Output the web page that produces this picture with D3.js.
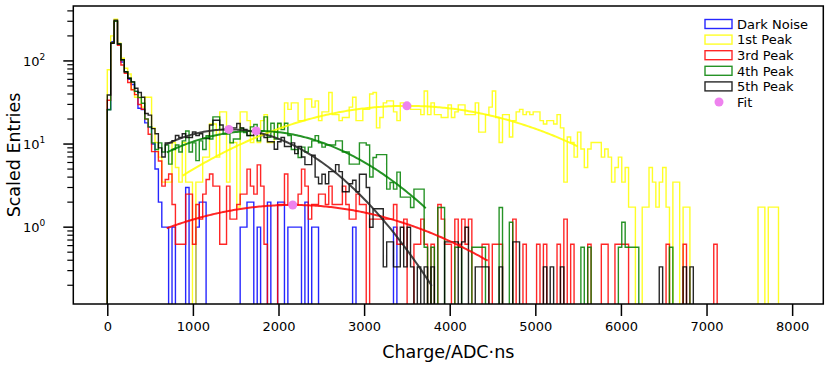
<!DOCTYPE html>
<html>
<head>
<meta charset="utf-8">
<script src="https://cdn.jsdelivr.net/npm/d3@7"></script>
<style>
body { margin: 0; background: #fff; }
text { font-family: "DejaVu Sans", sans-serif; }
</style>
</head>
<body>
<svg id="chart" width="830" height="368"></svg>
<script>
(function() {
'use strict';

// 200 bins from 0, width in ADC·ns
var binWidth = 39.8;

var seriesNames = ['Dark Noise', '1st Peak', '3rd Peak', '4th Peak', '5th Peak'];
var seriesColors = ['#0000ff', '#ffff00', '#ff0000', '#008000', '#000000'];
// entries per count after scaling
var seriesScale = [1.0, 1.74, 0.624, 0.574, 0.333];

// raw counts per bin
var darkNoise = [
    26,170,300,160,97,74,60,52,43,27,
    26,18,16,10,5,2,1,1,0,1,
    0,0,0,3,0,0,1,2,2,0,
    0,0,0,0,0,0,0,0,0,1,
    1,2,2,0,1,0,0,2,0,0,
    2,2,0,1,1,1,1,0,2,0,
    1,1,0,0,0,0,0,0,0,0,
    0,0,1,0,0,0,0,0,0,0,
    0,0,0,0,1,0,0,0,0,0,
    0,0,0,0,0,0,0,0,0,0,
    0,0,0,0,0,0,0,0,0,0, 0,0,0,0,0,0,0,0,0,0,
    0,0,0,0,0,0,0,0,0,0, 0,0,0,0,0,0,0,0,0,0,
    0,0,0,0,0,0,0,0,0,0, 0,0,0,0,0,0,0,0,0,0,
    0,0,0,0,0,0,0,0,0,0, 0,0,0,0,0,0,0,0,0,0,
    0,0,0,0,0,0,0,0,0,0, 0,0,0,0,0,0,0,0,0,0
];
var peak1 = [
    45,115,182,94,62,47,40,26,21,21,
    16,21,21,9,6,4,2,2,2,6,
    3,2,6,2,2,0,2,2,4,4,
    10,10,4,14,14,2,6,6,1,14,
    14,11,6,8,6,11,13,6,6,8,
    10,9,18,15,18,18,11,11,20,20,
    16,19,11,14,14,24,13,13,11,12,
    12,16,21,11,11,15,15,23,24,9,
    12,18,19,19,14,11,18,17,17,15,
    15,15,13,25,13,18,13,13,12,12,
    17,12,14,17,17,13,13,13,18,8,
    8,13,16,25,12,6,13,13,7,11,
    14,15,13,14,13,14,14,11,10,11,
    11,10,13,9,2,7,6,4,8,5,
    3,5,6,6,6,4,5,4,2,3,
    4,2,3,1,1,0,0,1,1,3,
    2,1,2,3,1,0,2,2,0,1,
    1,0,0,0,0,0,0,0,0,0,
    0,0,0,0,0,0,0,0,0,0,
    0,1,1,0,1,1,1,0,0,0
];
var peak3 = [
    54,265,480,247,143,114,88,72,63,48,
    42,32,21,13,13,10,5,6,7,3,
    1,1,1,4,4,1,3,2,4,6,
    7,5,5,1,1,5,2,2,3,4,
    4,8,5,4,9,5,1,0,0,0,
    3,3,7,3,3,3,4,8,5,2,
    3,3,4,4,3,5,3,3,3,5,
    3,2,2,4,3,3,0,2,2,2,
    2,2,2,2,3,1,1,2,0,0,
    1,1,2,1,0,1,0,3,2,1,
    1,0,2,1,2,1,2,0,0,0,
    1,1,0,1,1,1,0,0,0,2,
    0,0,1,0,0,0,1,0,1,0,
    0,0,1,0,2,0,1,0,0,0,
    0,1,0,0,0,1,1,0,0,1,
    1,1,1,0,0,0,0,0,0,0,
    0,0,0,0,1,0,0,0,0,1,
    0,0,0,0,0,0,0,0,1,0,
    0,0,0,0,0,0,0,0,0,0,
    0,0,0,0,0,0,0,0,0,0
];
var peak4 = [
    45,287,523,279,179,129,108,97,75,63,
    54,35,28,18,15,18,14,17,10,15,
    17,14,19,25,14,18,11,19,15,22,
    20,37,37,26,23,23,18,20,20,27,
    24,22,28,30,19,25,37,21,31,20,
    31,26,31,22,15,15,12,16,14,16,
    19,22,18,16,17,17,17,19,19,14,
    14,10,10,10,18,18,17,7,12,13,
    13,13,5,6,5,8,4,4,4,3,
    5,5,5,1,0,1,0,3,3,0,
    0,0,1,1,0,0,0,1,1,1,
    1,0,0,0,0,3,0,0,2,0,
    0,0,0,0,0,0,0,0,0,0,
    0,0,0,0,0,0,0,0,0,1,
    0,1,0,0,0,0,0,0,0,0,
    1,2,1,1,1,1,0,0,0,0,
    0,0,0,0,0,1,0,0,0,0,
    0,0,0,0,0,0,0,0,0,0,
    0,0,0,0,0,0,0,0,0,0,
    0,0,0,0,0,0,0,0,0,0
];
var peak5 = [
    117,490,930,480,310,222,186,168,141,125,
    110,70,67,46,40,27,21,31,31,33,
    38,36,40,36,36,42,38,40,35,35,
    51,58,58,51,45,42,47,47,53,47,
    45,38,38,40,42,38,36,32,32,26,
    32,36,28,28,31,23,28,21,17,17,
    22,12,10,13,10,14,14,17,14,8,
    8,10,11,8,13,13,9,3,5,5,
    5,1,2,2,1,1,3,1,3,1,
    0,1,0,1,0,1,0,0,0,2,
    2,2,2,0,2,3,0,0,1,1,
    1,1,0,0,0,1,0,0,0,2,
    2,0,0,0,0,0,0,0,1,0,
    1,0,0,1,0,0,0,0,0,0,
    0,0,0,0,0,0,0,0,0,0,
    0,0,0,0,0,0,0,0,0,0,
    0,0,1,0,0,0,0,0,0,1,
    0,1,0,0,0,0,0,0,0,0,
    0,0,0,0,0,0,0,0,0,0,
    0,0,0,0,0,0,0,0,0,0
];
var seriesCounts = [darkNoise, peak1, peak3, peak4, peak5];

// gaussian fits (series index, amplitude, mean, sigma, fit range)
var fitSeries = [1, 2, 3, 4];
var fitAmp = [28.8, 1.85, 14.4, 15.0];
var fitMean = [3500, 2166, 1740, 1420];
var fitSigma = [1332, 1296, 957, 805];
var fitStart = [881, 694, 694, 686];
var fitEnd = [5495, 4444, 3720, 3790];

var xTicks = [0, 1000, 2000, 3000, 4000, 5000, 6000, 7000, 8000];
var yMajor = [1, 10, 100];
var yMinor = [0.2, 0.3, 0.4, 0.5, 0.6, 0.7, 0.8, 0.9,
    2, 3, 4, 5, 6, 7, 8, 9, 20, 30, 40, 50, 60, 70, 80, 90, 200, 300, 400];

var svg = d3.select('#chart');
var left = 73.3, top = 6, width = 750, height = 298;

var x = d3.scaleLinear().domain([-397, 8364]).range([0, width]);
var y = d3.scaleLog().domain([0.119, 458]).range([height, 0]);

var g = svg.append('g').attr('transform', 'translate(' + left + ',' + top + ')');

g.append('defs').append('clipPath').attr('id', 'plot-clip')
    .append('rect').attr('width', width).attr('height', height);

var plot = g.append('g').attr('clip-path', 'url(#plot-clip)');

var yOf = function(v) {
    return v > 0 ? y(v) : height + 10;
};

// step outlines
seriesCounts.forEach(function(counts, si) {
    var pts = [[x(0), height + 10]];
    counts.forEach(function(c, i) {
        var v = c * seriesScale[si];
        pts.push([x(i * binWidth), yOf(v)]);
        pts.push([x((i + 1) * binWidth), yOf(v)]);
    });
    pts.push([x(counts.length * binWidth), height + 10]);
    plot.append('path')
        .attr('d', d3.line()(pts))
        .attr('fill', 'none')
        .attr('stroke', seriesColors[si])
        .attr('stroke-width', 1.4)
        .attr('stroke-opacity', 0.85)
        .attr('stroke-linejoin', 'miter');
});

// fit curves
fitSeries.forEach(function(si, k) {
    var xs = d3.range(fitStart[k], fitEnd[k], 20).concat([fitEnd[k]]);
    var line = d3.line()
        .x(function(d) { return x(d); })
        .y(function(d) {
            var dx = d - fitMean[k];
            return y(fitAmp[k] * Math.exp(-dx * dx / (2 * fitSigma[k] * fitSigma[k])));
        });
    plot.append('path')
        .attr('d', line(xs))
        .attr('fill', 'none')
        .attr('stroke', si === 4 ? '#222' : seriesColors[si])
        .attr('stroke-width', 2)
        .attr('stroke-opacity', 0.85);
});

// fit peaks
fitSeries.forEach(function(si, k) {
    plot.append('circle')
        .attr('cx', x(fitMean[k]))
        .attr('cy', y(fitAmp[k]))
        .attr('r', 4.5)
        .attr('fill', 'violet');
});

// x axis
var xAxis = g.append('g').attr('transform', 'translate(0,' + height + ')')
    .call(d3.axisBottom(x).tickValues(xTicks).tickSize(12).tickPadding(6).tickFormat(d3.format('d')));
xAxis.select('.domain').remove();
xAxis.selectAll('line').attr('stroke-width', 1.5);
xAxis.selectAll('text').attr('font-size', 13).attr('fill', '#000')
    .attr('font-family', '"DejaVu Sans", sans-serif');

// y axis
var yAxis = g.append('g');
yAxis.selectAll('line.major').data(yMajor).enter().append('line')
    .attr('x1', -10).attr('x2', 0)
    .attr('y1', function(d) { return y(d); }).attr('y2', function(d) { return y(d); })
    .attr('stroke', '#000').attr('stroke-width', 1.5);
yAxis.selectAll('line.minor').data(yMinor).enter().append('line')
    .attr('x1', -6).attr('x2', 0)
    .attr('y1', function(d) { return y(d); }).attr('y2', function(d) { return y(d); })
    .attr('stroke', '#000').attr('stroke-width', 1.2);
var yLab = yAxis.selectAll('text.ylab').data(yMajor).enter().append('text')
    .attr('x', -28).attr('y', function(d) { return y(d) + 5; })
    .attr('text-anchor', 'end').attr('font-size', 13);
yLab.append('tspan').text('10');
yLab.append('tspan').attr('dy', -6).attr('font-size', 9)
    .text(function(d) { return Math.round(Math.log10(d)); });

// frame
g.append('rect').attr('width', width).attr('height', height)
    .attr('fill', 'none').attr('stroke', '#000').attr('stroke-width', 1.5);

// axis titles
svg.append('text')
    .attr('transform', 'translate(20,155) rotate(-90)')
    .attr('text-anchor', 'middle').attr('font-size', 17.5)
    .text('Scaled Entries');
svg.append('text')
    .attr('x', left + width / 2).attr('y', 358)
    .attr('text-anchor', 'middle').attr('font-size', 17.5)
    .text('Charge/ADC\u00b7ns');

// legend
var legend = svg.append('g').attr('transform', 'translate(705,24)');
seriesNames.forEach(function(name, i) {
    var row = legend.append('g').attr('transform', 'translate(0,' + (i * 15.6) + ')');
    row.append('rect').attr('x', 0).attr('y', -4.5).attr('width', 27).attr('height', 9)
        .attr('fill', 'none').attr('stroke', seriesColors[i]).attr('stroke-width', 1.4)
        .attr('stroke-opacity', 0.85);
    row.append('text').attr('x', 32).attr('y', 4.7).attr('font-size', 13).text(name);
});
var fitRow = legend.append('g').attr('transform', 'translate(0,' + (5 * 15.6) + ')');
fitRow.append('circle').attr('cx', 14).attr('cy', 0).attr('r', 4.5).attr('fill', 'violet');
fitRow.append('text').attr('x', 32).attr('y', 4.7).attr('font-size', 13).text('Fit');

})();
</script>
</body>
</html>
